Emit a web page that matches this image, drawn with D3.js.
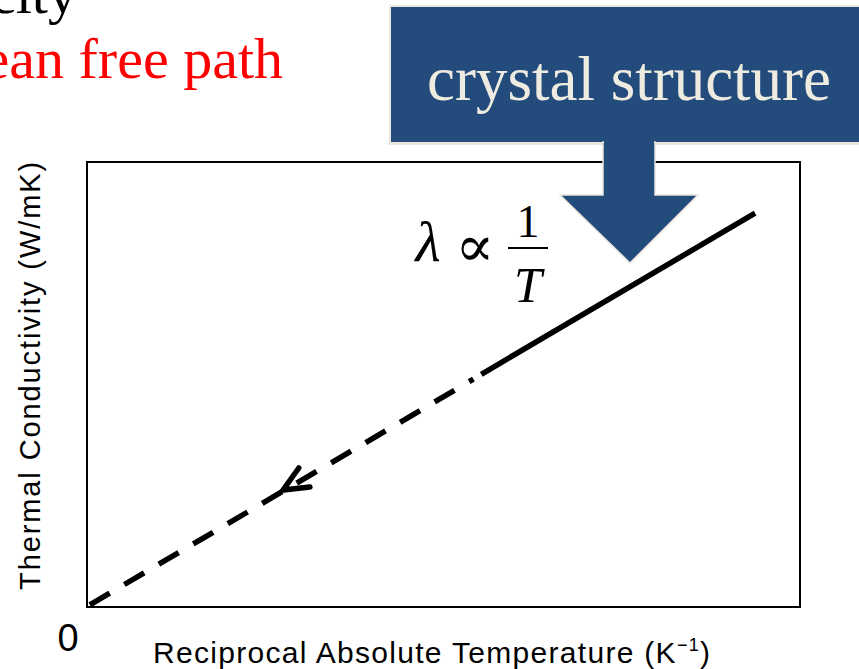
<!DOCTYPE html>
<html>
<head>
<meta charset="utf-8">
<script src="https://cdn.jsdelivr.net/npm/d3@7"></script>
<style>
  body { margin: 0; background: #fff; }
  svg { display: block; }
</style>
</head>
<body>
<svg width="859" height="669"></svg>
<script>
// Data (normalised units, origin = 0)
const xDomain = [0, 1];
const yDomain = [0, 1];
const extrapolated = [[0.004, 0.005], [0.542, 0.512]];   // dashed part
const measured = [[0.553, 0.523], [0.937, 0.885]];       // solid part
const arrowTip = [0.275, 0.263];
const originLabel = "0";
const xTitle = "Reciprocal Absolute Temperature (K";
const yTitle = "Thermal Conductivity (W/mK)";
const bannerText = "crystal structure";

const svg = d3.select("svg"),
      width = +svg.attr("width"),
      height = +svg.attr("height"),
      margin = {top: 162, right: 59, bottom: 62, left: 87};

const x = d3.scaleLinear()
    .domain(xDomain)
    .range([margin.left, width - margin.right]);

const y = d3.scaleLinear()
    .domain(yDomain)
    .range([height - margin.bottom, margin.top]);

// slide text at the top left (cut off by the crop)
svg.append("text")
    .attr("x", 77).attr("y", 13)
    .attr("text-anchor", "end")
    .attr("font-family", "Liberation Serif, Times New Roman, serif")
    .attr("font-size", 58)
    .attr("fill", "#000")
    .text("velocity");

svg.append("text")
    .attr("x", 283).attr("y", 78)
    .attr("text-anchor", "end")
    .attr("font-family", "Liberation Serif, Times New Roman, serif")
    .attr("font-size", 58)
    .attr("fill", "#ff0000")
    .text("mean free path");

// plot frame
svg.append("rect")
    .attr("x", x(0)).attr("y", y(1))
    .attr("width", x(1) - x(0))
    .attr("height", y(0) - y(1))
    .attr("fill", "none")
    .attr("stroke", "#000")
    .attr("stroke-width", 2);

const line = d3.line()
    .x(d => x(d[0]))
    .y(d => y(d[1]));

svg.append("path")
    .datum(extrapolated)
    .attr("fill", "none")
    .attr("stroke", "#000")
    .attr("stroke-width", 5.5)
    .attr("stroke-dasharray", "23 17")
    .attr("d", line);

svg.append("path")
    .datum(measured)
    .attr("fill", "none")
    .attr("stroke", "#000")
    .attr("stroke-width", 5.5)
    .attr("d", line);

// open arrow head pointing to the origin
const dx = x(extrapolated[1][0]) - x(extrapolated[0][0]),
      dy = y(extrapolated[1][1]) - y(extrapolated[0][1]),
      ang = Math.atan2(dy, dx),
      tx = x(arrowTip[0]), ty = y(arrowTip[1]),
      armLen = 27, spread = 24 * Math.PI / 180;
const arms = [ang - spread, ang + spread].map(a => [tx + armLen * Math.cos(a), ty + armLen * Math.sin(a)]);
svg.append("path")
    .attr("d", `M${arms[0]}L${tx},${ty}L${arms[1]}`)
    .attr("fill", "none")
    .attr("stroke", "#000")
    .attr("stroke-width", 5.5)
    .attr("stroke-linecap", "round");

// formula  λ ∝ 1/T
const f = svg.append("g")
    .attr("font-family", "Liberation Serif, Times New Roman, serif")
    .attr("fill", "#000");
f.append("text").attr("x", 428).attr("y", 261).attr("text-anchor", "middle")
    .attr("font-size", 58).attr("font-style", "italic").text("λ");
f.append("text").attr("x", 475).attr("y", 266).attr("text-anchor", "middle")
    .attr("font-family", "DejaVu Serif, serif")
    .attr("font-size", 58).text("∝");
f.append("line").attr("x1", 508).attr("x2", 548).attr("y1", 248).attr("y2", 248)
    .attr("stroke", "#000").attr("stroke-width", 2);
f.append("text").attr("x", 528).attr("y", 237).attr("text-anchor", "middle")
    .attr("font-size", 46).text("1");
f.append("text").attr("x", 528).attr("y", 302).attr("text-anchor", "middle")
    .attr("font-size", 50).attr("font-style", "italic").text("T");

// banner with arrow
svg.append("rect")
    .attr("x", 389).attr("y", 5)
    .attr("width", 475).attr("height", 140)
    .attr("fill", "#e9e6de");
svg.append("rect")
    .attr("x", 391).attr("y", 7)
    .attr("width", 470).attr("height", 135)
    .attr("fill", "#234b7c");
svg.append("path")
    .attr("d", "M603,142L655,142L655,195L698,195L630,263L560,195L603,195Z")
    .attr("fill", "#234b7c")
    .attr("stroke", "#e9e6de")
    .attr("stroke-width", 1.5);
svg.append("rect")
    .attr("x", 604).attr("y", 138)
    .attr("width", 50).attr("height", 8)
    .attr("fill", "#234b7c");
svg.append("text")
    .attr("x", 629).attr("y", 100)
    .attr("text-anchor", "middle")
    .attr("font-family", "Liberation Serif, Times New Roman, serif")
    .attr("font-size", 63)
    .attr("fill", "#eeebe1")
    .text(bannerText);

// axis labels
svg.append("text")
    .attr("x", 68).attr("y", 651)
    .attr("text-anchor", "middle")
    .attr("font-family", "Liberation Sans, Arial, sans-serif")
    .attr("font-size", 38)
    .text(originLabel);

const xt = svg.append("text")
    .attr("x", 153).attr("y", 663)
    .attr("font-family", "Liberation Sans, Arial, sans-serif")
    .attr("font-size", 30)
    .attr("letter-spacing", 1.3)
    .text(xTitle);
xt.append("tspan").attr("font-size", 18).attr("dy", -12).text("−1");
xt.append("tspan").attr("dy", 12).text(")");

svg.append("text")
    .attr("transform", "translate(40,375) rotate(-90)")
    .attr("text-anchor", "middle")
    .attr("font-family", "Liberation Sans, Arial, sans-serif")
    .attr("font-size", 29)
    .attr("letter-spacing", 1.9)
    .text(yTitle);
</script>
</body>
</html>
